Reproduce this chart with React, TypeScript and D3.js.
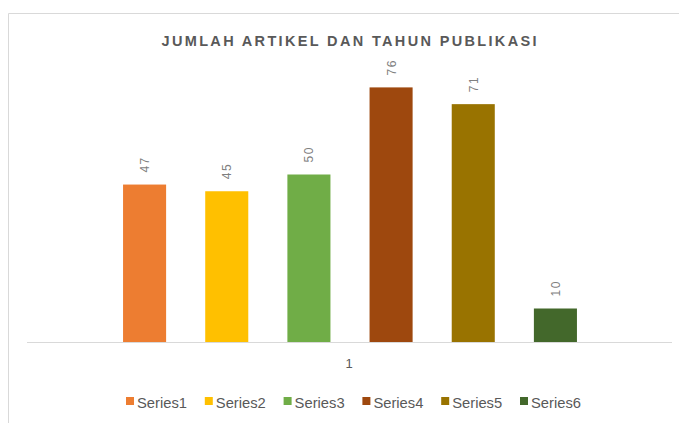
import React from "react";
import * as d3 from "d3";

const categories = ["1"];
const seriesNames = ["Series1", "Series2", "Series3", "Series4", "Series5", "Series6"];
const seriesValues = [47, 45, 50, 76, 71, 10];
const seriesColors = ["#ED7D31", "#FFC000", "#70AD47", "#9E480E", "#997300", "#43682B"];
const titleText = "JUMLAH ARTIKEL DAN TAHUN PUBLIKASI";

const W = 679;
const H = 423;

export default function App() {
  const baseline = 342;
  const y = d3.scaleLinear().domain([0, 80]).range([baseline, baseline - 80 * 3.35]);
  const x = d3
    .scaleBand<string>()
    .domain(seriesNames)
    .range([103.5, 596.5])
    .paddingInner(0.476)
    .paddingOuter(0.238);

  const legendX = d3.scalePoint<string>().domain(seriesNames).range([126, 520]);

  const font = "'Liberation Sans', Arial, sans-serif";

  return (
    <svg
      width={W}
      height={H}
      style={{ position: "absolute", left: 0, top: 0, background: "#fff" }}
      fontFamily={font}
    >
      <rect x={0} y={0} width={W} height={H} fill="#fff" />
      <line x1={8.5} y1={13.5} x2={W} y2={13.5} stroke="#d9d9d9" strokeWidth={1} />
      <line x1={8.5} y1={13.5} x2={8.5} y2={H} stroke="#d9d9d9" strokeWidth={1} />
      <text
        x={349}
        y={45.5}
        textAnchor="middle"
        fontSize={14.5}
        fontWeight="bold"
        fill="#595959"
        textLength={375}
        lengthAdjust="spacing"
      >
        {titleText}
      </text>
      {seriesNames.map((s, i) => (
        <rect
          key={s}
          x={x(s)}
          y={y(seriesValues[i])}
          width={x.bandwidth()}
          height={baseline - y(seriesValues[i])}
          fill={seriesColors[i]}
        />
      ))}
      {seriesNames.map((s, i) => {
        const cx = (x(s) as number) + x.bandwidth() / 2;
        const ty = y(seriesValues[i]) - 12;
        return (
          <text
            key={s + "l"}
            transform={`translate(${cx + 4.5},${ty}) rotate(-90)`}
            fontSize={12}
            fill="#7f7f7f"
            textAnchor="start"
            letterSpacing={1.5}
          >
            {seriesValues[i]}
          </text>
        );
      })}
      <line x1={27} y1={baseline + 0.5} x2={672} y2={baseline + 0.5} stroke="#d9d9d9" strokeWidth={1} />
      {categories.map((c) => (
        <text key={c} x={349} y={368} textAnchor="middle" fontSize={13} fill="#595959">
          {c}
        </text>
      ))}
      {seriesNames.map((s, i) => (
        <g key={s + "lg"} transform={`translate(${legendX(s)},0)`}>
          <rect x={0} y={397} width={8} height={8} fill={seriesColors[i]} />
          <text x={11} y={407.5} fontSize={15.5} fill="#595959" textLength={50} lengthAdjust="spacingAndGlyphs">
            {s}
          </text>
        </g>
      ))}
    </svg>
  );
}
